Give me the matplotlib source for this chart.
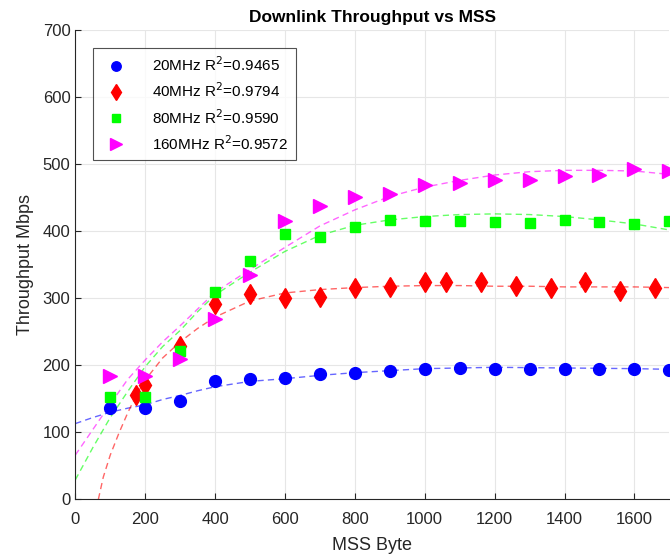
import matplotlib
matplotlib.use("Agg")
import matplotlib.pyplot as plt

plt.rcParams['font.family'] = ['Liberation Sans', 'DejaVu Sans']

# measured points
mss = [100, 200, 300, 400, 500, 600, 700, 800, 900, 1000, 1100, 1200, 1300, 1400, 1500, 1600, 1700]
tp_20 = [137, 137, 146, 177, 180, 181, 187, 189, 192, 194, 196, 195, 195, 195, 194, 194, 193]
mss_40 = [175, 200, 300, 400, 500, 600, 700, 800, 900, 1000, 1060, 1160, 1260, 1360, 1460, 1560, 1660]
tp_40 = [156, 170, 229, 291, 307, 301, 302, 315, 317, 325, 324, 324, 318, 315, 324, 311, 316]
tp_80 = [153, 152, 221, 310, 356, 396, 391, 407, 417, 416, 415, 414, 413, 417, 414, 411, 415]
tp_160 = [184, 184, 210, 269, 335, 415, 438, 451, 455, 469, 472, 477, 477, 483, 484, 493, 490]

# fitted curves
fit_x = [0, 50, 100, 150, 200, 250, 300, 350, 400, 500, 600, 700, 800, 900, 1000,
         1100, 1200, 1300, 1400, 1500, 1600, 1700]
fit_20 = [113, 122, 130, 136, 141, 149, 155, 162, 168, 176, 180, 185, 189, 192, 195,
          196, 197, 196.5, 196, 195.5, 195, 194]
fit_80 = [29, 77, 122, 161, 198, 228, 252, 280, 305, 339, 370, 394, 409, 417, 422,
          425, 426, 425, 422, 417, 411, 402]
fit_160 = [66, 104, 142, 179, 208, 235, 259, 284, 309, 343, 376, 408, 432, 452, 466,
           476, 484, 489, 491, 491, 490, 485]
fit_40_x = [66, 80, 100, 125, 150, 175, 200, 250, 300, 350, 400, 500, 600, 700, 800,
            900, 1000, 1100, 1200, 1300, 1400, 1500, 1600, 1700]
fit_40 = [0, 33, 66, 99, 129, 156, 178, 211, 235, 255, 272, 296, 308, 313, 316,
          318, 319, 319, 318, 318, 317, 317, 317, 316]

labels = ['20MHz R$^2$=0.9465', '40MHz R$^2$=0.9794', '80MHz R$^2$=0.9590', '160MHz R$^2$=0.9572']

fig = plt.figure(figsize=(6.70, 5.58), dpi=100)
ax = fig.add_axes([0.1124, 0.1052, 0.8866, 0.8405])

dash = (4.5, 3)
ax.plot(fit_x, fit_20, '--', color='#0000ff', alpha=0.6, lw=1, dashes=dash)
ax.plot(fit_40_x, fit_40, '--', color='#ff0000', alpha=0.6, lw=1, dashes=dash)
ax.plot(fit_x, fit_80, '--', color='#00ff00', alpha=0.6, lw=1, dashes=dash)
ax.plot(fit_x, fit_160, '--', color='#ff00ff', alpha=0.6, lw=1, dashes=dash)

ax.plot(mss, tp_20, 'o', color='#0000ff', ms=8.5, ls='none', label=labels[0], clip_on=False)
ax.plot(mss_40, tp_40, 'd', color='#ff0000', ms=10, ls='none', label=labels[1], clip_on=False)
ax.plot(mss, tp_80, 's', color='#00ff00', ms=7, ls='none', label=labels[2], clip_on=False)
ax.plot(mss, tp_160, '>', color='#ff00ff', ms=10, ls='none', label=labels[3], clip_on=False)

ax.set_xlim(0, 1700)
ax.set_ylim(0, 700)
ax.set_xticks(range(0, 1700, 200))
ax.set_yticks(range(0, 701, 100))
ax.grid(True, color='#e6e6e6', lw=0.8)
ax.set_axisbelow(True)
ax.spines['top'].set_visible(False)
ax.spines['right'].set_visible(False)
for s in ['left', 'bottom']:
    ax.spines[s].set_color('#262626')
    ax.spines[s].set_linewidth(0.8)
ax.tick_params(axis='x', pad=9)
ax.tick_params(direction='in', colors='#262626', labelsize=12, length=4)

ax.set_xlabel('MSS Byte', fontsize=13, color='#262626', labelpad=7)
ax.set_ylabel('Throughput Mbps', fontsize=13, color='#262626', labelpad=6)
ax.set_title('Downlink Throughput vs MSS', fontsize=12.5, fontweight='bold', pad=6)

leg = ax.legend(loc='upper left', bbox_to_anchor=(0.029, 0.962), borderaxespad=0,
                fontsize=11, frameon=True, fancybox=False, handletextpad=1.3,
                borderpad=0.5, labelspacing=0.48, handlelength=2.1, markerscale=0.8)
leg.get_frame().set_edgecolor('#262626')
leg.get_frame().set_linewidth(0.8)

fig.savefig('out.png', dpi=100)
